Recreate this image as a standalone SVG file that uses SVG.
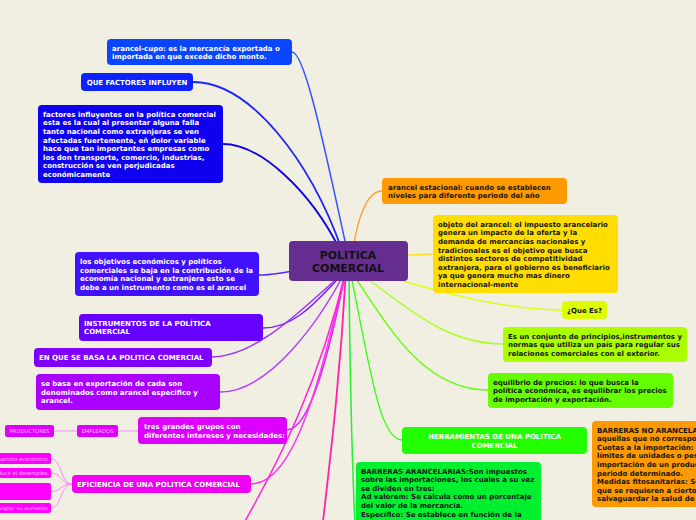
<svg xmlns="http://www.w3.org/2000/svg" width="696" height="520" viewBox="0 0 696 520">
<style>
.t{font-family:"DejaVu Sans",Verdana,sans-serif;font-weight:bold;font-size:7px}
.w{fill:#ffffff}
.d{fill:#161616}
.s{font-family:"DejaVu Sans",Verdana,sans-serif;font-size:5.2px;fill:#f8c4ff}
.c{fill:none;stroke-linecap:round}
.m{text-anchor:middle}
</style>
<rect width="696" height="520" fill="#f1eee2"/>
<g id="connectors">
<path class="c" d="M292,52 C305,52 325,150 347,250" stroke="#3355ff" stroke-width="1.5"/>
<path class="c" d="M193,82 C250,82 310,160 342,250" stroke="#1a22ff" stroke-width="1.8"/>
<path class="c" d="M223,144 C260,144 310,190 340,250" stroke="#1000e6" stroke-width="1.8"/>
<path class="c" d="M382,191 C368,191 358,215 353,250" stroke="#ffa030" stroke-width="1.3"/>
<path class="c" d="M348,258 C390,258 410,254 433,254" stroke="#ffdd22" stroke-width="1.5"/>
<path class="c" d="M350,265 C430,290 500,310 562,310" stroke="#ddff11" stroke-width="1.5"/>
<path class="c" d="M352,268 C400,300 440,344 503,344" stroke="#aaff22" stroke-width="1.5"/>
<path class="c" d="M350,270 C385,320 420,390 488,390" stroke="#66ff11" stroke-width="1.5"/>
<path class="c" d="M350,270 C370,370 380,440 402,440" stroke="#33ff11" stroke-width="1.3"/>
<path class="c" d="M349,275 C350,380 352,460 355,525" stroke="#22ee33" stroke-width="1.5"/>
<path class="c" d="M259,275 C290,275 320,262 348,261" stroke="#5528ff" stroke-width="1.5"/>
<path class="c" d="M263,328 C300,328 325,290 345,272" stroke="#7a1cff" stroke-width="1.5"/>
<path class="c" d="M211,357 C260,357 310,300 345,272" stroke="#9933ff" stroke-width="1.5"/>
<path class="c" d="M220,392 C270,392 320,320 345,272" stroke="#b040ff" stroke-width="1.5"/>
<path class="c" d="M346,270 C330,350 310,430 287,430" stroke="#dd22ff" stroke-width="1.5"/>
<path class="c" d="M346,270 C320,380 295,484 251,484" stroke="#ff33ee" stroke-width="1.5"/>
<path class="c" d="M346,270 C320,380 280,460 240,530" stroke="#ff22dd" stroke-width="1.5"/>
<path class="c" d="M346,270 C340,380 330,460 322,530" stroke="#ff22aa" stroke-width="1.8"/>
<path class="c" d="M118,431 L138,431" stroke="#ec90f5" stroke-width="1"/>
<path class="c" d="M54,431 L77,431" stroke="#ec90f5" stroke-width="1"/>
<path class="c" d="M72,484 C60,484 62,458.5 51,458.5" stroke="#ff88ff" stroke-width="1"/>
<path class="c" d="M72,484 C60,484 62,473 51,473" stroke="#ff88ff" stroke-width="1"/>
<path class="c" d="M72,484 C60,484 62,491.5 51,491.5" stroke="#ff88ff" stroke-width="1"/>
<path class="c" d="M72,484 C60,484 62,508 51,508" stroke="#ff88ff" stroke-width="1"/>
</g>
<g id="central">
<rect x="289" y="241" width="119" height="40" rx="4" fill="#662d91"/>
<text x="348" y="259" class="m" font-family="DejaVu Sans,Verdana,sans-serif" font-weight="bold" font-size="11" fill="#111">POLITICA</text>
<text x="348" y="272" class="m" font-family="DejaVu Sans,Verdana,sans-serif" font-weight="bold" font-size="11" fill="#111">COMERCIAL</text>
</g>
<g id="n-arancel-cupo">
<rect x="107" y="39" width="185" height="26" rx="4" fill="#0a46ff"/>
<text class="t w" x="112" y="50.5">arancel-cupo: es la mercancía exportada o</text>
<text class="t w" x="112" y="59.1">importada en que excede dicho monto.</text>
</g>
<g id="n-que-factores">
<rect x="81" y="73" width="112" height="18" rx="4" fill="#0d22ff"/>
<text class="t w m" x="137" y="85">QUE FACTORES INFLUYEN</text>
</g>
<g id="n-factores">
<rect x="38" y="105" width="185" height="78" rx="4" fill="#1000f0"/>
<text class="t w" x="43" y="116.7">factores influyentes en la política comercial</text>
<text class="t w" x="43" y="125.3">esta es la cual al presentar alguna falla</text>
<text class="t w" x="43" y="133.9">tanto nacional como extranjeras se ven</text>
<text class="t w" x="43" y="142.5">afectadas fuertemente, eñ dolor variable</text>
<text class="t w" x="43" y="151.1">hace que tan importantes empresas como</text>
<text class="t w" x="43" y="159.7">los don transporte, comercio, industrias,</text>
<text class="t w" x="43" y="168.3">construcción se ven perjudicadas</text>
<text class="t w" x="43" y="176.9">económicamente</text>
</g>
<g id="n-arancel-estacional">
<rect x="382" y="178" width="185" height="26" rx="4" fill="#ff9900"/>
<text class="t d" x="388" y="189.5">arancel estacional: cuando se establecen</text>
<text class="t d" x="388" y="198.1">niveles para diferente periodo del año</text>
</g>
<g id="n-objeto">
<rect x="433" y="215" width="185" height="78" rx="4" fill="#ffdd00"/>
<text class="t d" x="438" y="226.7">objeto del arancel: el impuesto arancelario</text>
<text class="t d" x="438" y="235.3">genera un impacto de la oferta y la</text>
<text class="t d" x="438" y="243.9">demanda de mercancías nacionales y</text>
<text class="t d" x="438" y="252.5">tradicionales es el objetivo que busca</text>
<text class="t d" x="438" y="261.1">distintos sectores de competitividad</text>
<text class="t d" x="438" y="269.7">extranjera, para el gobierno es beneficiario</text>
<text class="t d" x="438" y="278.3">ya que genera mucho mas dinero</text>
<text class="t d" x="438" y="286.9">internacional-mente</text>
</g>
<g id="n-que-es">
<rect x="562" y="301" width="45" height="18" rx="4" fill="#ddff00"/>
<text class="t d m" x="584.5" y="313">¿Que Es?</text>
</g>
<g id="n-conjunto">
<rect x="503" y="327" width="184" height="35" rx="4" fill="#aaff00"/>
<text class="t d" x="508" y="338.7">Es un conjunto de principios,instrumentos y</text>
<text class="t d" x="508" y="347.3">normas que utiliza un país para regular sus</text>
<text class="t d" x="508" y="355.9">relaciones comerciales con el exterior.</text>
</g>
<g id="n-equilibrio">
<rect x="488" y="373" width="185" height="35" rx="4" fill="#66ff00"/>
<text class="t d" x="493" y="384.7">equilibrio de precios: lo que busca la</text>
<text class="t d" x="493" y="393.3">política económica, es equilibrar los precios</text>
<text class="t d" x="493" y="401.9">de importación y exportación.</text>
</g>
<g id="n-herramientas">
<rect x="402" y="427" width="185" height="27" rx="4" fill="#22ff00"/>
<text class="t w m" x="494.5" y="439">HERRAMIENTAS DE UNA POLITICA</text>
<text class="t w m" x="494.5" y="447.6">COMERCIAL</text>
</g>
<g id="n-barreras-arancelarias">
<rect x="356" y="462" width="185" height="70" rx="4" fill="#00f030"/>
<text class="t d" x="361" y="473.5">BARRERAS ARANCELARIAS:Son impuestos</text>
<text class="t d" x="361" y="482.1">sobre las importaciones, los cuales a su vez</text>
<text class="t d" x="361" y="490.7">se dividen en tres:</text>
<text class="t d" x="361" y="499.3">Ad valorem: Se calcula como un porcentaje</text>
<text class="t d" x="361" y="507.9">del valor de la mercancía.</text>
<text class="t d" x="361" y="516.5">Específico: Se establece en función de la</text>
</g>
<g id="n-barreras-no">
<rect x="592" y="421" width="140" height="86" rx="4" fill="#ff9900"/>
<text class="t d" x="597" y="432.6">BARRERAS NO ARANCELARIAS:</text>
<text class="t d" x="597" y="441.2">aquellas que no corresponden</text>
<text class="t d" x="597" y="449.8">Cuotas a la importación: Son</text>
<text class="t d" x="597" y="458.4">límites de unidades o peso</text>
<text class="t d" x="597" y="467">importación de un producto</text>
<text class="t d" x="597" y="475.6">periodo determinado.</text>
<text class="t d" x="597" y="484.2">Medidas fitosanitarias: Son</text>
<text class="t d" x="597" y="492.8">que se requieren a ciertos</text>
<text class="t d" x="597" y="501.4">salvaguardar la salud de</text>
</g>
<g id="n-objetivos">
<rect x="75" y="252" width="184" height="44" rx="4" fill="#4010ff"/>
<text class="t w" x="80" y="263.9">los objetivos económicos y políticos</text>
<text class="t w" x="80" y="272.5">comerciales se baja en la contribución de la</text>
<text class="t w" x="80" y="281.1">economía nacional y extranjera esto se</text>
<text class="t w" x="80" y="289.7">debe a un instrumento como es el  arancel</text>
</g>
<g id="n-instrumentos">
<rect x="79" y="314" width="184" height="27" rx="4" fill="#6600ff"/>
<text class="t w" x="84" y="325.8">INSTRUMENTOS DE LA POLÍTICA</text>
<text class="t w" x="84" y="334.4">COMERCIAL</text>
</g>
<g id="n-en-que">
<rect x="34" y="348" width="178" height="19" rx="4" fill="#8000ff"/>
<text class="t w" x="39" y="360">EN QUE SE BASA LA POLITICA COMERCIAL</text>
</g>
<g id="n-se-basa">
<rect x="36" y="374" width="184" height="36" rx="4" fill="#aa00ff"/>
<text class="t w" x="41" y="386">se basa en exportación de cada son</text>
<text class="t w" x="41" y="394.6">denominados como arancel especifico y</text>
<text class="t w" x="41" y="403.2">arancel.</text>
</g>
<g id="n-tres-grupos">
<rect x="138" y="417" width="149" height="27" rx="4" fill="#dd00ff"/>
<text class="t w" x="144" y="429">tres grandes grupos con</text>
<text class="t w" x="144" y="437.6">diferentes intereses y necesidades:</text>
</g>
<g id="n-empleados">
<rect x="77" y="425" width="41" height="12" rx="2" fill="#dd00ff"/>
<text class="s m" x="97.5" y="433">EMPLEADOS</text>
</g>
<g id="n-productores">
<rect x="5" y="425" width="49" height="12" rx="2" fill="#dd00ff"/>
<text class="s m" x="29.5" y="433">PRODUCTORES</text>
</g>
<g id="n-eficiencia">
<rect x="72" y="475" width="179" height="18" rx="4" fill="#f200f2"/>
<text class="t w" x="77" y="487">EFICIENCIA DE UNA POLITICA COMERCIAL</text>
</g>
<g id="n-ef-1">
<rect x="-60" y="453" width="111" height="11" rx="2" fill="#ff00ff"/>
<text class="s" x="49" y="460.5" text-anchor="end">desarrollo económico.</text>
</g>
<g id="n-ef-2">
<rect x="-60" y="468" width="111" height="10" rx="2" fill="#ff00ff"/>
<text class="s" x="49" y="475" text-anchor="end">reducir el desempleo.</text>
</g>
<g id="n-ef-3">
<rect x="-60" y="483" width="111" height="17" rx="2" fill="#ff00ff"/>
</g>
<g id="n-ef-4">
<rect x="-60" y="503" width="111" height="10" rx="2" fill="#ff00ff"/>
<text class="s" x="49" y="510" text-anchor="end">vigilar su aumento.</text>
</g>
</svg>
